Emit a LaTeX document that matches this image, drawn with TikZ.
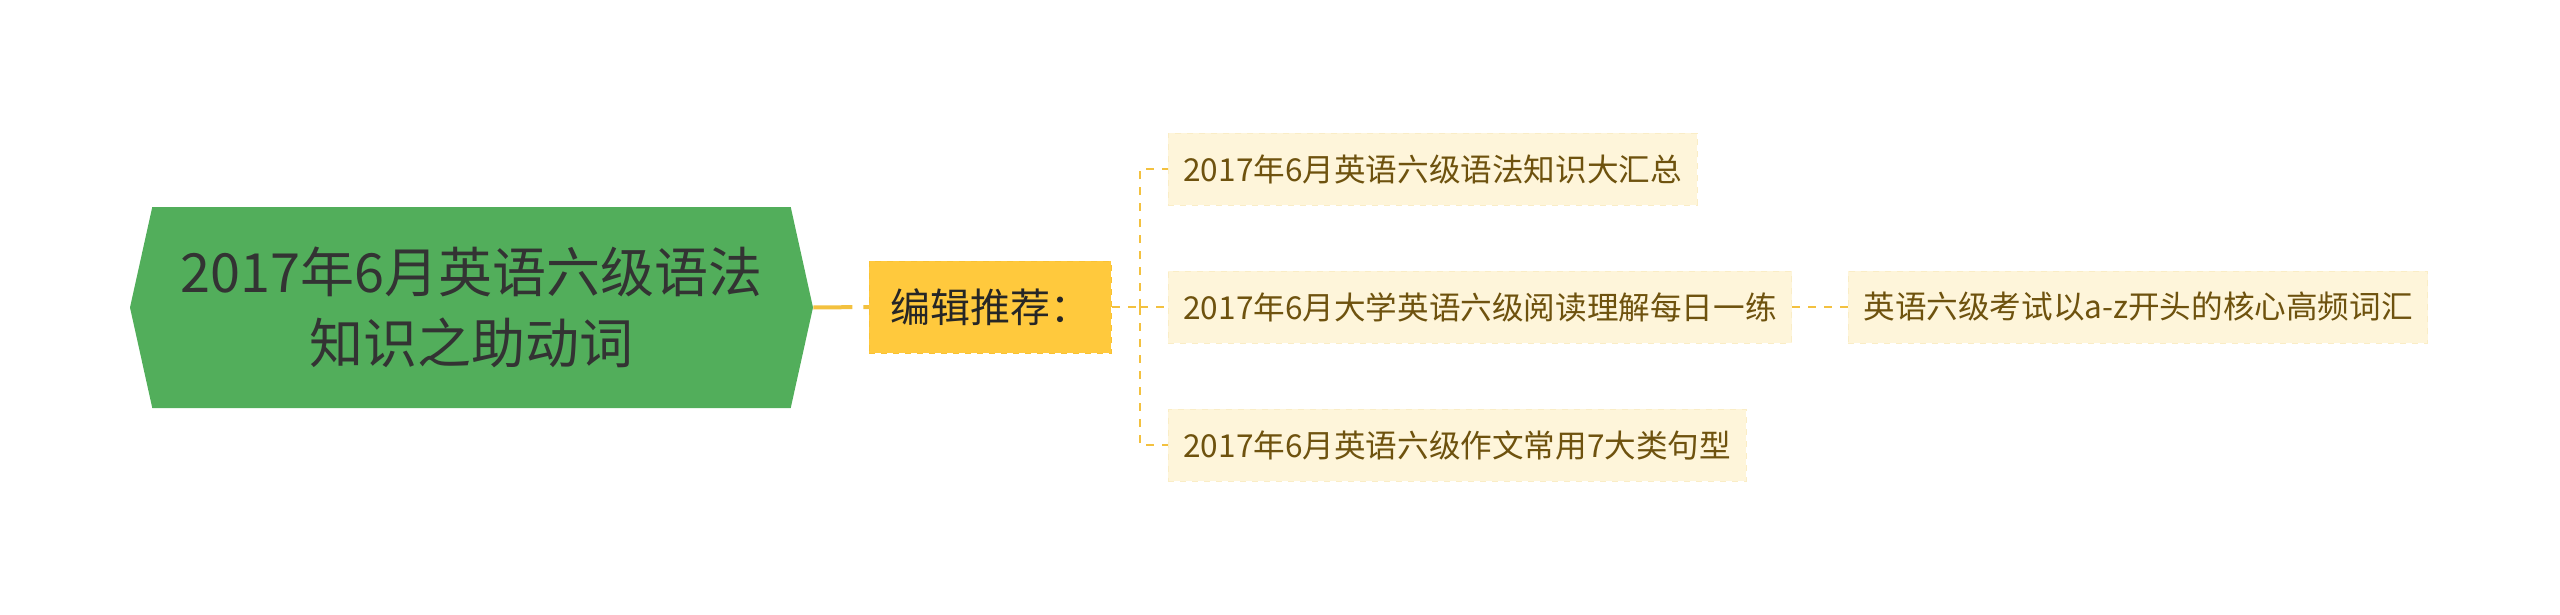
\documentclass[tikz,border=0pt]{standalone}
\usepackage{fontspec}
\newfontfamily\cjk{Noto Sans CJK SC}
\usepackage{tikz}
\usetikzlibrary{shapes.symbols}
\definecolor{topicgreen}{HTML}{52AE5B}
\definecolor{hubyellow}{HTML}{FFC93D}
\definecolor{hubedge}{HTML}{F9C233}
\definecolor{leafcream}{HTML}{FEF5DA}
\definecolor{leafedge}{HTML}{FAEDC6}
\definecolor{leaftext}{HTML}{6E520E}
\definecolor{linkyellow}{HTML}{F3C13F}
\tikzstyle{topic}=[signal, signal to=west and east, signal pointer angle=155,
                   fill=topicgreen, text=black!80, align=center,
                   minimum width=341.5pt, minimum height=100.5pt,
                   font=\cjk\fontsize{27}{35.5}\selectfont]
\tikzstyle{hub}=[draw=hubedge, dashed, fill=hubyellow, text=black!85,
                 inner xsep=10.5pt, minimum height=46pt, anchor=west,
                 font=\cjk\fontsize{20}{24}\selectfont]
\tikzstyle{leaf}=[draw=leafedge, dashed, fill=leafcream, text=leaftext,
                  inner xsep=7.5pt, minimum height=36pt, anchor=west,
                  font=\cjk\fontsize{15.8}{19}\selectfont]
\tikzstyle{trunk}=[draw=linkyellow, line width=2pt, dash pattern=on 19.5pt off 5.5pt]
\tikzstyle{link}=[draw=linkyellow, line width=1.2pt, dash pattern=on 4pt off 4pt]

\begin{document}
\begin{tikzpicture}[x=0.5pt,y=-0.5pt]
\useasboundingbox (0,0) rectangle (2560,615);
\node[topic] (root) at (471.5,307.5) {2017年6月英语六级语法\\知识之助动词};
\node[hub] (rec) at (869,307) {编辑推荐：};
\node[leaf] (sum) at (1168,169) {2017年6月英语六级语法知识大汇总};
\node[leaf] (read) at (1168,307) {2017年6月大学英语六级阅读理解每日一练};
\node[leaf] (essay) at (1168,445) {2017年6月英语六级作文常用7大类句型};
\node[leaf] (vocab) at (1848,307) {英语六级考试以a-z开头的核心高频词汇};
\coordinate (fork) at (1140,307);
\draw[trunk] (root.east) to (rec.west);
\draw[link] (rec.east) to (fork);
\draw[link] (fork) |- (sum.west);
\draw[link] (fork) to (read.west);
\draw[link] (fork) |- (essay.west);
\draw[link] (read.east) to (vocab.west);

\end{tikzpicture}
\end{document}
